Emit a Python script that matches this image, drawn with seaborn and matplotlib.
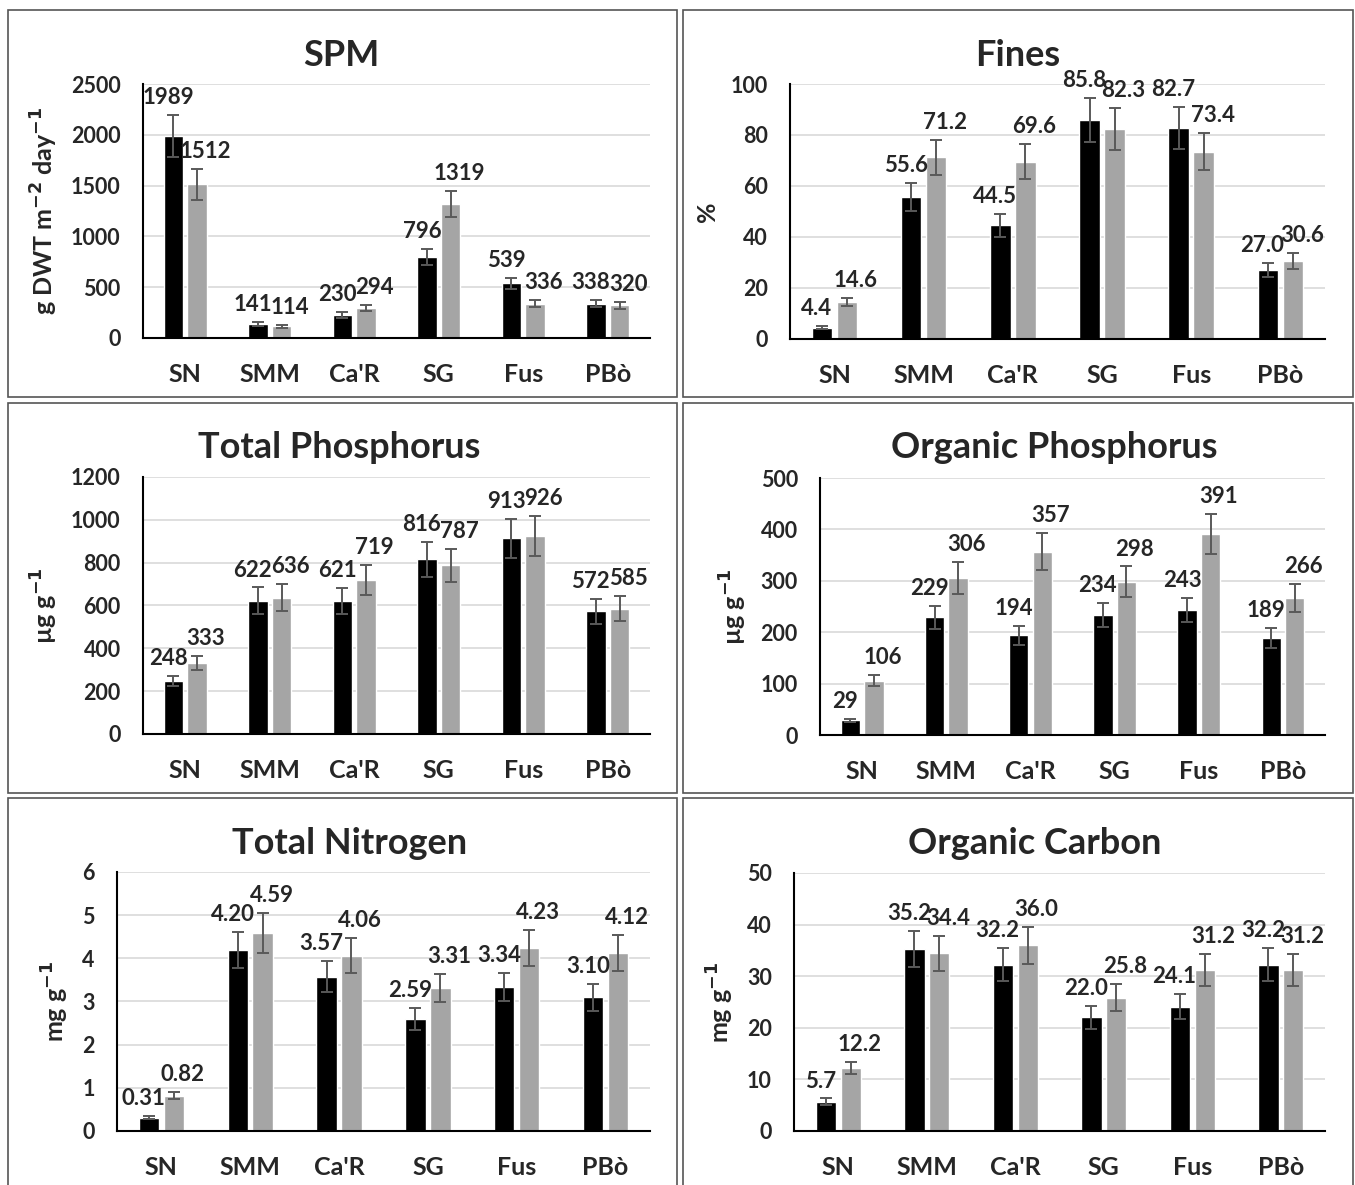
import matplotlib
matplotlib.use('Agg')
import matplotlib.pyplot as plt
from matplotlib.patches import Rectangle
import seaborn as sns
import pandas as pd

sns.set_theme(style='white')
plt.rcParams['font.family'] = ['Lato', 'DejaVu Sans']
plt.rcParams['font.weight'] = 'bold'
plt.rcParams['mathtext.default'] = 'bf'

sites = ['SN', 'SMM', "Ca'R", 'SG', 'Fus', 'PBò']
groups = ['Period 1', 'Period 2']

spm_black = [1989, 141, 230, 796, 539, 338]
spm_grey = [1512, 114, 294, 1319, 336, 320]
spm_err_black = [210, 20, 30, 80, 55, 35]
spm_err_grey = [150, 15, 30, 130, 35, 35]

fines_black = [4.4, 55.6, 44.5, 85.8, 82.7, 27.0]
fines_grey = [14.6, 71.2, 69.6, 82.3, 73.4, 30.6]
fines_err_black = [0.5, 5.5, 4.5, 8.6, 8.3, 2.7]
fines_err_grey = [1.5, 7.0, 7.0, 8.2, 7.3, 3.1]

tp_black = [248, 622, 621, 816, 913, 572]
tp_grey = [333, 636, 719, 787, 926, 585]
tp_err_black = [25, 62, 62, 82, 91, 57]
tp_err_grey = [33, 64, 72, 79, 93, 59]

op_black = [29, 229, 194, 234, 243, 189]
op_grey = [106, 306, 357, 298, 391, 266]
op_err_black = [3, 23, 19, 23, 24, 19]
op_err_grey = [11, 31, 36, 30, 39, 27]

tn_black = [0.31, 4.20, 3.57, 2.59, 3.34, 3.10]
tn_grey = [0.82, 4.59, 4.06, 3.31, 4.23, 4.12]
tn_err_black = [0.03, 0.42, 0.36, 0.26, 0.33, 0.31]
tn_err_grey = [0.08, 0.46, 0.41, 0.33, 0.42, 0.41]

oc_black = [5.7, 35.2, 32.2, 22.0, 24.1, 32.2]
oc_grey = [12.2, 34.4, 36.0, 25.8, 31.2, 31.2]
oc_err_black = [0.6, 3.5, 3.2, 2.2, 2.4, 3.2]
oc_err_grey = [1.2, 3.4, 3.6, 2.6, 3.1, 3.1]

# title, ylabel, ymax, step, fmt, values, errors, axes rect, panel box (px), title x (px)
panels = [
    ('SPM', r'g DWT m$^{-2}$ day$^{-1}$', 2500, 500, '{:.0f}',
     (spm_black, spm_grey), (spm_err_black, spm_err_grey),
     [0.1055, 0.7148, 0.3742, 0.2143], (8, 10, 677, 397), 341),
    ('Fines', '%', 100, 20, '{:.1f}',
     (fines_black, fines_grey), (fines_err_black, fines_err_grey),
     [0.5830, 0.7140, 0.3948, 0.2151], (683, 10, 1353, 397), 1018),
    ('Total Phosphorus', r'µg g$^{-1}$', 1200, 200, '{:.0f}',
     (tp_black, tp_grey), (tp_err_black, tp_err_grey),
     [0.1055, 0.3806, 0.3742, 0.2169], (8, 403, 677, 793), 339),
    ('Organic Phosphorus', r'µg g$^{-1}$', 500, 100, '{:.0f}',
     (op_black, op_grey), (op_err_black, op_err_grey),
     [0.6052, 0.3797, 0.3727, 0.2169], (683, 403, 1353, 793), 1054),
    ('Total Nitrogen', r'mg g$^{-1}$', 6, 1, '{:.2f}',
     (tn_black, tn_grey), (tn_err_black, tn_err_grey),
     [0.0863, 0.0456, 0.3934, 0.2186], (8, 798, 677, 1195), 350),
    ('Organic Carbon', r'mg g$^{-1}$', 50, 10, '{:.1f}',
     (oc_black, oc_grey), (oc_err_black, oc_err_grey),
     [0.5860, 0.0456, 0.3919, 0.2177], (683, 798, 1353, 1195), 1035),
]

W, H = 1355, 1185
fig = plt.figure(figsize=(W / 100, H / 100), dpi=100)
colors = ['#000000', '#a5a5a5']

for title, ylabel, ymax, step, fmt, vals, errs, rect, box, tx in panels:
    x0, y0, x1, y1 = box
    fig.patches.append(Rectangle((x0 / W, 1 - y1 / H), (x1 - x0) / W, (y1 - y0) / H,
                                 transform=fig.transFigure, fill=False,
                                 edgecolor='#555555', linewidth=1.2))
    fig.text(tx / W, 1 - (y0 + 45) / H, title, ha='center', va='center',
             fontsize=26, fontweight='bold')

    df = pd.DataFrame({
        'site': sites * 2,
        'group': [groups[0]] * 6 + [groups[1]] * 6,
        'value': list(vals[0]) + list(vals[1]),
    })
    ax = fig.add_axes(rect)
    sns.barplot(data=df, x='site', y='value', hue='group', palette=colors,
                width=0.56, gap=0.18, errorbar=None, legend=False, ax=ax,
                saturation=1)
    bar_conts = list(ax.containers)
    for k, cont in enumerate(bar_conts):
        xs = [p.get_x() + p.get_width() / 2 for p in cont.patches]
        ax.errorbar(xs, vals[k], yerr=errs[k], fmt='none', ecolor='#595959',
                    elinewidth=1.4, capsize=4, capthick=1.4, zorder=3)
        dx = -0.06 if k == 0 else 0.1
        for x, v, e in zip(xs, vals[k], errs[k]):
            ax.annotate(fmt.format(v), (x + dx, v + e), xytext=(0, 5),
                        textcoords='offset points', ha='center', va='bottom',
                        fontsize=16, fontweight='bold')

    ax.set_ylim(0, ymax)
    ax.set_xlim(-0.5, 5.5)
    ax.set_yticks(range(0, ymax + 1, step))
    ax.yaxis.grid(True, color='#d9d9d9', linewidth=1.2)
    ax.set_axisbelow(True)
    for s in ['top', 'right']:
        ax.spines[s].set_visible(False)
    ax.spines['left'].set_color('black')
    ax.spines['bottom'].set_color('black')
    ax.spines['left'].set_linewidth(1.5)
    ax.spines['bottom'].set_linewidth(1.5)
    ax.tick_params(axis='x', length=0, pad=18, labelsize=18)
    ax.tick_params(axis='y', length=0, pad=16, labelsize=15.5)
    for t in ax.get_xticklabels() + ax.get_yticklabels():
        t.set_fontweight('bold')
    ax.set_xlabel('')
    ax.set_ylabel(ylabel, fontsize=18, fontweight='bold', labelpad=8)
    ax.set_facecolor('white')

fig.savefig('out.png', dpi=100, facecolor='white')
